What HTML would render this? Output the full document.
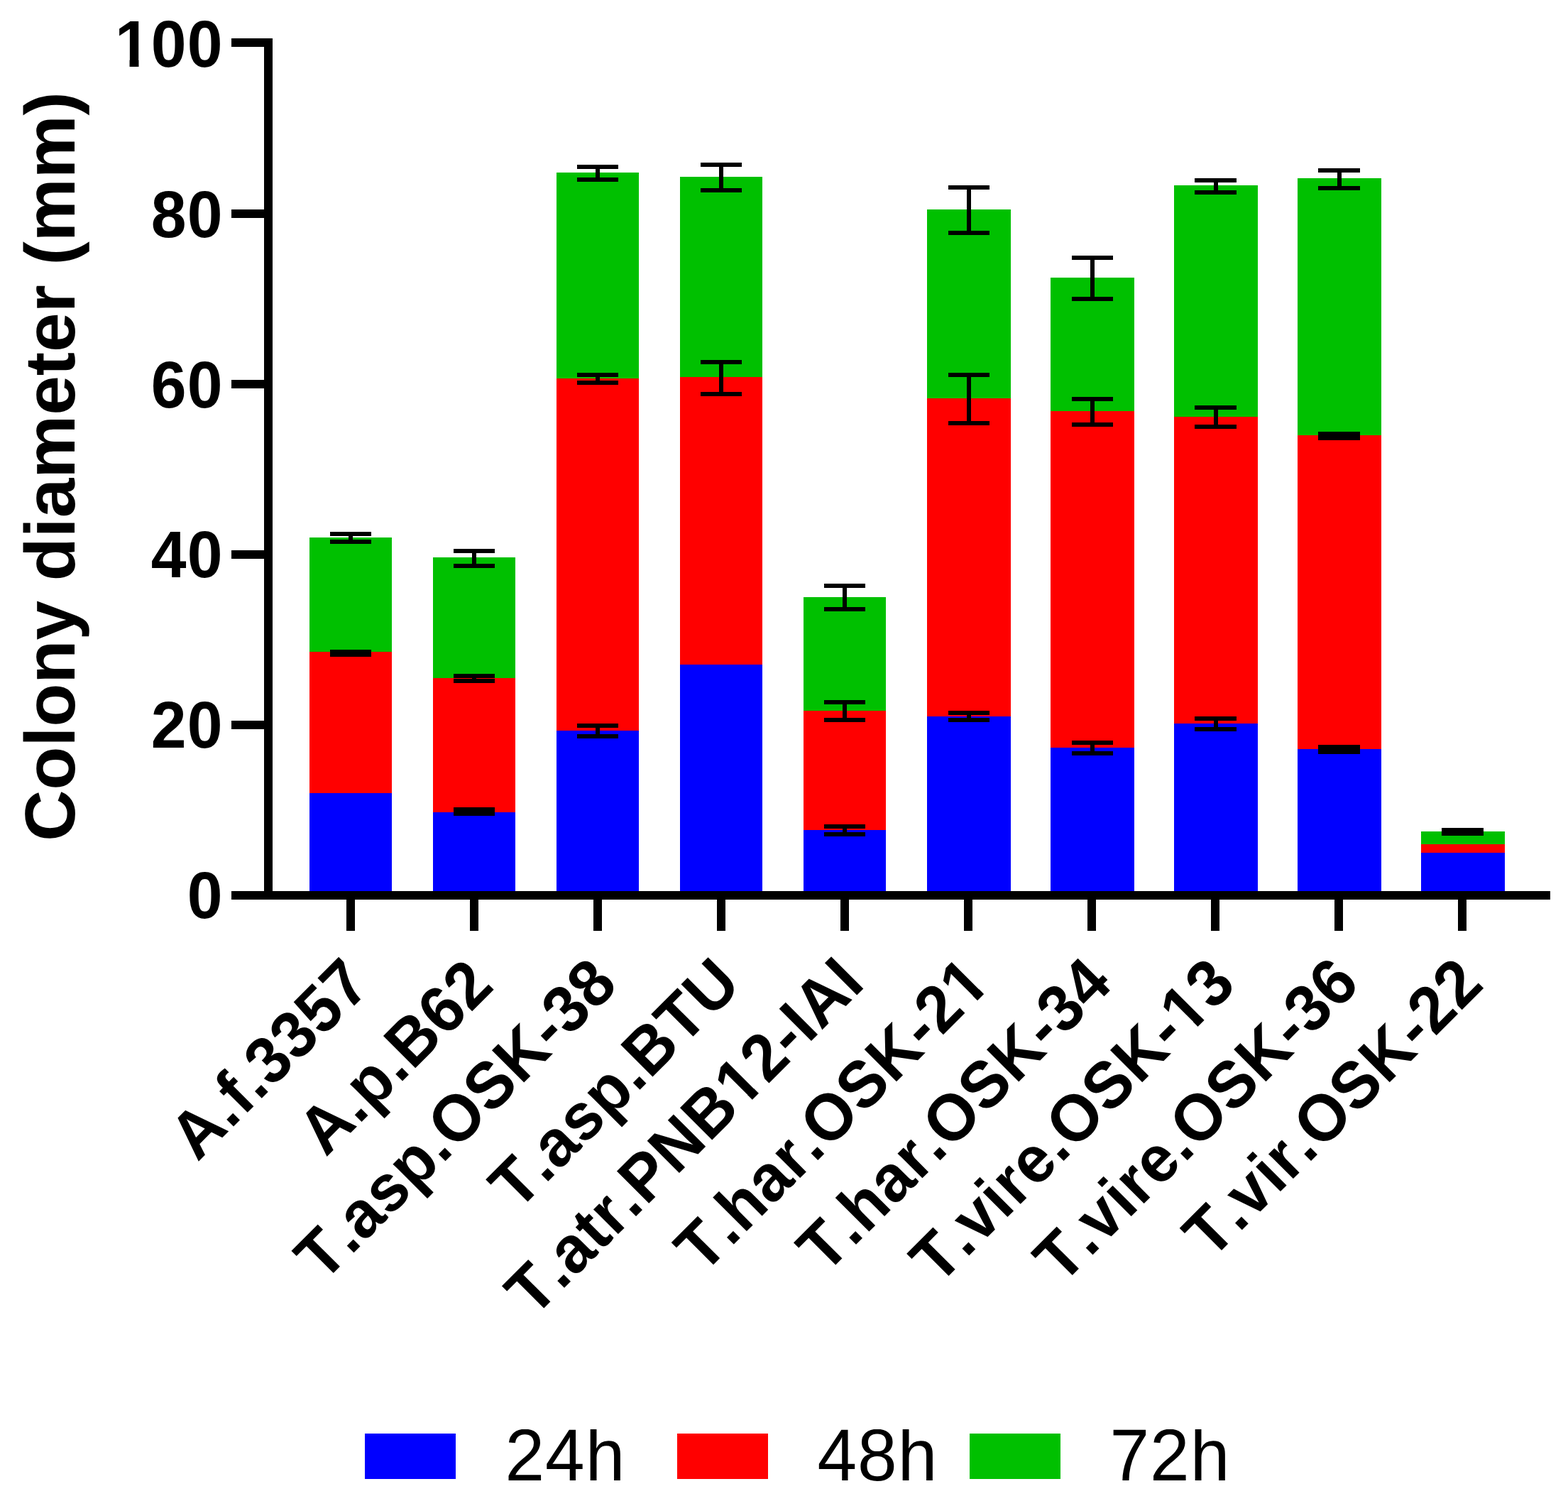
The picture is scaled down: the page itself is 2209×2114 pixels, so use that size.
<!DOCTYPE html>
<html lang="en"><head><meta charset="utf-8"><title>Colony diameter (mm) - stacked bar chart</title>
<style>
html,body{margin:0;padding:0;background:#fff;}
body{width:2209px;height:2114px;}
svg{display:block;}
text{font-family:"Liberation Sans",sans-serif;fill:#000;font-kerning:none;font-variant-ligatures:none;text-rendering:geometricPrecision;}
.tk{font-size:89.5px;font-weight:bold;text-anchor:end;}
.xl{letter-spacing:0.85px;}
.yl{letter-spacing:1.1px;}
.yt{font-size:100px;font-weight:bold;text-anchor:middle;}
.lg{font-size:100px;letter-spacing:1px;}
.cv{fill:#fff;}
</style></head><body>
<svg width="2209" height="2114" viewBox="0 0 2209 2114">
<rect width="2209" height="2114" fill="#fff"/>
<defs><clipPath id="lgclip"><rect x="-10" y="-72" width="220" height="110"/></clipPath></defs>
<g id="bars" shape-rendering="crispEdges">
<rect x="436.4" y="756.9" width="115.7" height="161.4" fill="#00c000"/>
<rect x="436.4" y="918.3" width="115.7" height="198.7" fill="#ff0000"/>
<rect x="436.4" y="1117.0" width="115.7" height="139.0" fill="#0000ff"/>
<rect x="610.3" y="784.9" width="115.7" height="169.8" fill="#00c000"/>
<rect x="610.3" y="954.7" width="115.7" height="189.0" fill="#ff0000"/>
<rect x="610.3" y="1143.7" width="115.7" height="112.3" fill="#0000ff"/>
<rect x="784.3" y="242.9" width="115.6" height="289.7" fill="#00c000"/>
<rect x="784.3" y="532.6" width="115.6" height="496.1" fill="#ff0000"/>
<rect x="784.3" y="1028.7" width="115.6" height="227.3" fill="#0000ff"/>
<rect x="958.1" y="248.9" width="115.9" height="281.9" fill="#00c000"/>
<rect x="958.1" y="530.8" width="115.9" height="405.6" fill="#ff0000"/>
<rect x="958.1" y="936.4" width="115.9" height="319.6" fill="#0000ff"/>
<rect x="1132.3" y="841.0" width="115.7" height="160.1" fill="#00c000"/>
<rect x="1132.3" y="1001.1" width="115.7" height="167.4" fill="#ff0000"/>
<rect x="1132.3" y="1168.5" width="115.7" height="87.5" fill="#0000ff"/>
<rect x="1306.3" y="294.7" width="117.7" height="266.1" fill="#00c000"/>
<rect x="1306.3" y="560.8" width="117.7" height="447.7" fill="#ff0000"/>
<rect x="1306.3" y="1008.5" width="117.7" height="247.5" fill="#0000ff"/>
<rect x="1480.1" y="390.7" width="118.0" height="188.1" fill="#00c000"/>
<rect x="1480.1" y="578.8" width="118.0" height="473.8" fill="#ff0000"/>
<rect x="1480.1" y="1052.6" width="118.0" height="203.4" fill="#0000ff"/>
<rect x="1654.0" y="260.6" width="118.0" height="326.0" fill="#00c000"/>
<rect x="1654.0" y="586.6" width="118.0" height="431.9" fill="#ff0000"/>
<rect x="1654.0" y="1018.5" width="118.0" height="237.5" fill="#0000ff"/>
<rect x="1828.1" y="250.7" width="117.8" height="362.0" fill="#00c000"/>
<rect x="1828.1" y="612.7" width="117.8" height="442.2" fill="#ff0000"/>
<rect x="1828.1" y="1054.9" width="117.8" height="201.1" fill="#0000ff"/>
<rect x="2002.1" y="1171.0" width="117.8" height="18.1" fill="#00c000"/>
<rect x="2002.1" y="1189.1" width="117.8" height="12.1" fill="#ff0000"/>
<rect x="2002.1" y="1201.2" width="117.8" height="54.8" fill="#0000ff"/>
</g>
<g id="errors" fill="#000" shape-rendering="crispEdges">
<rect x="464.6" y="749.2" width="58.6" height="6.0"/>
<rect x="464.6" y="760.4" width="58.6" height="6.0"/>
<rect x="490.9" y="752.2" width="6.0" height="11.2"/>
<rect x="464.6" y="914.6" width="58.6" height="10.2"/>
<rect x="638.6" y="772.6" width="58.6" height="6.0"/>
<rect x="638.6" y="793.5" width="58.6" height="6.0"/>
<rect x="664.9" y="775.6" width="6.0" height="20.9"/>
<rect x="638.6" y="949.0" width="58.6" height="6.0"/>
<rect x="638.6" y="956.0" width="58.6" height="6.0"/>
<rect x="664.9" y="952.0" width="6.0" height="7.0"/>
<rect x="638.6" y="1137.2" width="58.6" height="12.0"/>
<rect x="812.5" y="232.4" width="58.6" height="6.0"/>
<rect x="812.5" y="249.8" width="58.6" height="6.0"/>
<rect x="838.8" y="235.4" width="6.0" height="17.4"/>
<rect x="812.5" y="525.0" width="58.6" height="6.0"/>
<rect x="812.5" y="536.2" width="58.6" height="6.0"/>
<rect x="838.8" y="528.0" width="6.0" height="11.2"/>
<rect x="812.5" y="1019.2" width="58.6" height="6.0"/>
<rect x="812.5" y="1034.1" width="58.6" height="6.0"/>
<rect x="838.8" y="1022.2" width="6.0" height="14.9"/>
<rect x="986.5" y="229.3" width="58.6" height="6.0"/>
<rect x="986.5" y="264.5" width="58.6" height="6.0"/>
<rect x="1012.8" y="232.3" width="6.0" height="35.2"/>
<rect x="986.5" y="506.7" width="58.6" height="6.0"/>
<rect x="986.5" y="551.5" width="58.6" height="6.0"/>
<rect x="1012.8" y="509.7" width="6.0" height="44.8"/>
<rect x="1160.6" y="822.3" width="58.6" height="6.0"/>
<rect x="1160.6" y="855.4" width="58.6" height="6.0"/>
<rect x="1186.9" y="825.3" width="6.0" height="33.1"/>
<rect x="1160.6" y="986.0" width="58.6" height="6.0"/>
<rect x="1160.6" y="1010.8" width="58.6" height="6.0"/>
<rect x="1186.9" y="989.0" width="6.0" height="24.8"/>
<rect x="1160.6" y="1160.8" width="58.6" height="6.0"/>
<rect x="1160.6" y="1172.0" width="58.6" height="6.0"/>
<rect x="1186.9" y="1163.8" width="6.0" height="11.2"/>
<rect x="1335.6" y="261.3" width="58.6" height="6.0"/>
<rect x="1335.6" y="324.7" width="58.6" height="6.0"/>
<rect x="1361.9" y="264.3" width="6.0" height="63.4"/>
<rect x="1335.6" y="524.9" width="58.6" height="6.0"/>
<rect x="1335.6" y="592.7" width="58.6" height="6.0"/>
<rect x="1361.9" y="527.9" width="6.0" height="67.8"/>
<rect x="1335.6" y="1001.4" width="58.6" height="6.0"/>
<rect x="1335.6" y="1010.6" width="58.6" height="6.0"/>
<rect x="1361.9" y="1004.4" width="6.0" height="9.2"/>
<rect x="1509.5" y="359.6" width="58.6" height="6.0"/>
<rect x="1509.5" y="418.3" width="58.6" height="6.0"/>
<rect x="1535.8" y="362.6" width="6.0" height="58.7"/>
<rect x="1509.5" y="559.1" width="58.6" height="6.0"/>
<rect x="1509.5" y="594.5" width="58.6" height="6.0"/>
<rect x="1535.8" y="562.1" width="6.0" height="35.4"/>
<rect x="1509.5" y="1042.5" width="58.6" height="6.0"/>
<rect x="1509.5" y="1057.8" width="58.6" height="6.0"/>
<rect x="1535.8" y="1045.5" width="6.0" height="15.3"/>
<rect x="1683.4" y="250.5" width="58.6" height="6.0"/>
<rect x="1683.4" y="267.9" width="58.6" height="6.0"/>
<rect x="1709.7" y="253.5" width="6.0" height="17.4"/>
<rect x="1683.4" y="571.1" width="58.6" height="6.0"/>
<rect x="1683.4" y="598.1" width="58.6" height="6.0"/>
<rect x="1709.7" y="574.1" width="6.0" height="27.0"/>
<rect x="1683.4" y="1008.9" width="58.6" height="6.0"/>
<rect x="1683.4" y="1024.2" width="58.6" height="6.0"/>
<rect x="1709.7" y="1011.9" width="6.0" height="15.3"/>
<rect x="1857.4" y="236.6" width="58.6" height="6.0"/>
<rect x="1857.4" y="261.7" width="58.6" height="6.0"/>
<rect x="1883.7" y="239.6" width="6.0" height="25.1"/>
<rect x="1857.4" y="607.6" width="58.6" height="12.5"/>
<rect x="1857.4" y="1049.1" width="58.6" height="12.8"/>
<rect x="2031.4" y="1165.5" width="58.6" height="11.2"/>
</g>
<g id="axes" fill="#000" shape-rendering="crispEdges">
<rect x="372.3" y="54.4" width="12.0" height="1212.5"/>
<rect x="326.4" y="1255.0" width="1857.5" height="11.9"/>
<rect x="326.4" y="54.4" width="46.0" height="12.0"/>
<rect x="326.4" y="294.5" width="46.0" height="12.0"/>
<rect x="326.4" y="534.6" width="46.0" height="12.0"/>
<rect x="326.4" y="774.8" width="46.0" height="12.0"/>
<rect x="326.4" y="1014.9" width="46.0" height="12.0"/>
<rect x="488.3" y="1266.0" width="12.0" height="44.7"/>
<rect x="662.3" y="1266.0" width="12.0" height="44.7"/>
<rect x="836.2" y="1266.0" width="12.0" height="44.7"/>
<rect x="1010.2" y="1266.0" width="12.0" height="44.7"/>
<rect x="1184.2" y="1266.0" width="12.0" height="44.7"/>
<rect x="1358.2" y="1266.0" width="12.0" height="44.7"/>
<rect x="1532.1" y="1266.0" width="12.0" height="44.7"/>
<rect x="1706.1" y="1266.0" width="12.0" height="44.7"/>
<rect x="1880.1" y="1266.0" width="12.0" height="44.7"/>
<rect x="2054.0" y="1266.0" width="12.0" height="44.7"/>
</g>
<g id="yticks">
<g transform="translate(314.6 93.9) scale(1 1.04)"><text class="tk yl" id="t0">100</text><rect class="cv" x="-148.50" y="-10.13" width="16.45" height="11.63"/><rect class="cv" x="-119.17" y="-10.13" width="15.32" height="11.63"/></g>
<g transform="translate(314.6 333.7) scale(1 1.04)"><text class="tk yl" id="t1">80</text></g>
<g transform="translate(314.6 573.5) scale(1 1.04)"><text class="tk yl" id="t2">60</text></g>
<g transform="translate(314.6 813.3) scale(1 1.04)"><text class="tk yl" id="t3">40</text></g>
<g transform="translate(314.6 1053.1) scale(1 1.04)"><text class="tk yl" id="t4">20</text></g>
<g transform="translate(314.6 1292.9) scale(1 1.04)"><text class="tk yl" id="t5">0</text></g>
</g>
<text class="yt" transform="translate(104.5 657) rotate(-90)">Colony diameter (mm)</text>
<g id="xlabels">
<g transform="translate(525.9 1389.6) rotate(-45) scale(1 1.04)"><text class="tk xl" id="t6">A.f.3357</text></g>
<g transform="translate(698.8 1390.6) rotate(-45) scale(1 1.04)"><text class="tk xl" id="t7">A.p.B62</text></g>
<g transform="translate(873.6 1389.1) rotate(-45) scale(1 1.04)"><text class="tk xl" id="t8">T.asp.OSK-38</text></g>
<g transform="translate(1047.2 1389.0) rotate(-45) scale(1 1.04)"><text class="tk xl" id="t9">T.asp.BTU</text></g>
<g transform="translate(1221.3 1387.6) rotate(-45) scale(1 1.04)"><text class="tk xl" id="t10">T.atr.PNB12-IAI</text><rect class="cv" x="-244.69" y="-10.13" width="16.45" height="11.63"/><rect class="cv" x="-215.36" y="-10.13" width="15.32" height="11.63"/></g>
<g transform="translate(1398.3 1387.9) rotate(-45) scale(1 1.04)"><text class="tk xl" id="t11">T.har.OSK-21</text><rect class="cv" x="-46.50" y="-10.13" width="16.45" height="11.63"/><rect class="cv" x="-17.17" y="-10.13" width="15.32" height="11.63"/></g>
<g transform="translate(1570.6 1388.2) rotate(-45) scale(1 1.04)"><text class="tk xl" id="t12">T.har.OSK-34</text></g>
<g transform="translate(1744.6 1388.9) rotate(-45) scale(1 1.04)"><text class="tk xl" id="t13">T.vire.OSK-13</text><rect class="cv" x="-97.14" y="-10.13" width="16.45" height="11.63"/><rect class="cv" x="-67.81" y="-10.13" width="15.32" height="11.63"/></g>
<g transform="translate(1918.8 1388.0) rotate(-45) scale(1 1.04)"><text class="tk xl" id="t14">T.vire.OSK-36</text></g>
<g transform="translate(2093.2 1388.8) rotate(-45) scale(1 1.04)"><text class="tk xl" id="t15">T.vir.OSK-22</text></g>
</g>
<g id="legend">
<rect shape-rendering="crispEdges" x="514.3" y="2018.9" width="127.8" height="63.6" fill="#0000ff"/>
<g transform="translate(711.4 2085)" clip-path="url(#lgclip)"><text class="lg" transform="scale(1 1.035)">24h</text></g>
<rect shape-rendering="crispEdges" x="954.3" y="2018.9" width="127.8" height="63.6" fill="#ff0000"/>
<g transform="translate(1151.4 2085)" clip-path="url(#lgclip)"><text class="lg" transform="scale(1 1.035)">48h</text></g>
<rect shape-rendering="crispEdges" x="1366.1" y="2018.9" width="127.8" height="63.6" fill="#00c000"/>
<g transform="translate(1563.4 2085)" clip-path="url(#lgclip)"><text class="lg" transform="scale(1 1.035)">72h</text></g>
</g>
</svg></body></html>
